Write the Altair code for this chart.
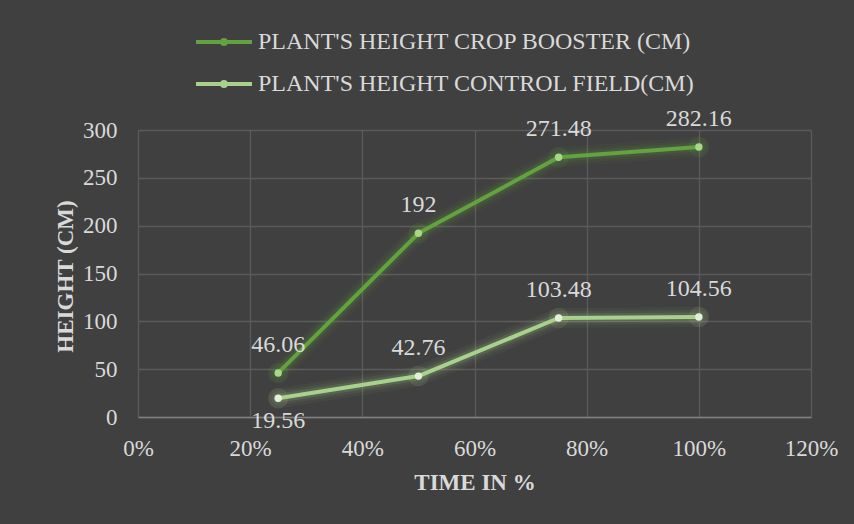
import altair as alt
import pandas as pd

# Growth measurements at each stage of the season
TIME_PCT = [0.25, 0.50, 0.75, 1.00]
BOOSTER = [46.06, 192, 271.48, 282.16]
CONTROL = [19.56, 42.76, 103.48, 104.56]

SERIES = ["PLANT'S HEIGHT CROP BOOSTER (CM)", "PLANT'S HEIGHT CONTROL FIELD(CM)"]
LINE_COLORS = ["#63a23e", "#a9d18e"]
MARKER_COLORS = ["#a6d886", "#e2f0d9"]

X_TICKS = [0, 0.2, 0.4, 0.6, 0.8, 1.0, 1.2]
Y_TICKS = [0, 50, 100, 150, 200, 250, 300]

FONT = "Liberation Serif"
TEXT_COLOR = "#d9d9d9"
BG = "#404040"

rows = []
for name, values, lc, mc in zip(SERIES, [BOOSTER, CONTROL], LINE_COLORS, MARKER_COLORS):
    for t, v in zip(TIME_PCT, values):
        rows.append({
            "time": t,
            "height": v,
            "series": name,
            "line_color": lc,
            "marker_color": mc,
            "label": f"{v:g}",
        })
df = pd.DataFrame(rows)

x = alt.X("time:Q",
          scale=alt.Scale(domain=[0, 1.2], nice=False, zero=False),
          axis=alt.Axis(format=".0%", values=X_TICKS, title="TIME IN %"))
y = alt.Y("height:Q",
          scale=alt.Scale(domain=[0, 300], nice=False),
          axis=alt.Axis(values=Y_TICKS, title="HEIGHT (CM)"))

base = alt.Chart(df)

# soft glow under the lines
glow = [
    base.mark_line(strokeWidth=w, opacity=op, strokeCap="round", strokeJoin="round").encode(
        x=x, y=y,
        stroke=alt.Stroke("line_color:N", scale=None),
        detail="series:N",
    )
    for w, op in [(20, 0.05), (14, 0.08), (9, 0.14)]
]
glow_pts = base.mark_circle(size=420, opacity=0.12).encode(
    x=x, y=y, fill=alt.Fill("line_color:N", scale=None)
)

legend_symbol = "M-1,0H1M0.07,0A0.07,0.07 0 1,1 -0.07,0A0.07,0.07 0 1,1 0.07,0"

lines = base.mark_line(strokeWidth=4, strokeCap="round", strokeJoin="round").encode(
    x=x, y=y,
    color=alt.Color(
        "series:N",
        scale=alt.Scale(domain=SERIES, range=LINE_COLORS),
        legend=alt.Legend(
            orient="none", legendX=56, legendY=-118, direction="vertical",
            title=None, labelFont=FONT, labelFontSize=24, labelColor=TEXT_COLOR,
            symbolType=legend_symbol, symbolSize=3136, symbolStrokeWidth=4,
            labelLimit=700, labelOffset=4, padding=0, rowPadding=0,
        ),
    ),
)

points = base.mark_circle(size=55, opacity=1).encode(
    x=x, y=y, fill=alt.Fill("marker_color:N", scale=None)
)

is_below = f"datum.series == \"{SERIES[1]}\" && datum.time == 0.25"

labels_above = base.mark_text(dy=-28, fontSize=24, font=FONT, color=TEXT_COLOR).encode(
    x=x, y=y, text="label:N"
).transform_filter(f"!({is_below})")

labels_below = base.mark_text(dy=23, fontSize=24, font=FONT, color=TEXT_COLOR).encode(
    x=x, y=y, text="label:N"
).transform_filter(is_below)

chart = alt.layer(*glow, glow_pts, lines, points, labels_above, labels_below).properties(
    width=673,
    height=287,
    autosize=alt.AutoSizeParams(type="none"),
    padding={"left": 138, "top": 130, "right": 43, "bottom": 107},
    background=BG,
).configure_view(
    stroke=None
).configure_axis(
    labelFont=FONT, labelFontSize=23, labelColor=TEXT_COLOR,
    titleFont=FONT, titleFontSize=23, titleFontWeight="bold", titleColor=TEXT_COLOR,
    gridColor="#5b5b5b", gridWidth=1.3,
    ticks=False, tickSize=0, labelFlush=False,
).configure_axisX(
    domain=True, domainColor="#7f7f7f", domainWidth=1.5,
    labelPadding=38, labelBaseline="alphabetic",
    titleY=72, titleBaseline="alphabetic",
).configure_axisY(
    domain=False, labelPadding=21,
    titleX=-66, titleY=146, titleAngle=270, titleAlign="center", titleBaseline="alphabetic",
)

chart.save("out.html", embed_options={"renderer": "svg", "actions": False})
